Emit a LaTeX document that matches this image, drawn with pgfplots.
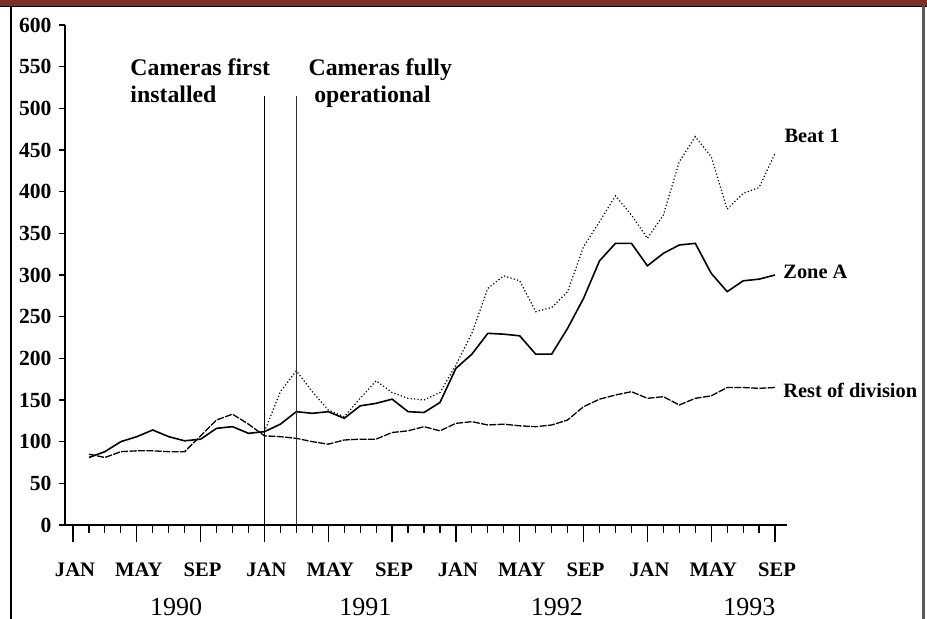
\documentclass[border=0pt]{standalone}
\usepackage{fontspec}
\setmainfont{Liberation Serif}
\usepackage{pgfplots}
\pgfplotsset{compat=1.18}
\definecolor{maroon}{RGB}{127,43,43}
\newcommand\tickfont{\fontsize{10.8bp}{12bp}\selectfont\bfseries}
\newcommand\monthfont{\fontsize{10.3bp}{12bp}\selectfont\bfseries}
\newcommand\yearfont{\fontsize{13bp}{15bp}\selectfont}
\newcommand\camfont{\fontsize{11.9bp}{15bp}\selectfont\bfseries}
\newcommand\labfont{\fontsize{10.2bp}{12bp}\selectfont\bfseries}
\begin{document}
\begin{tikzpicture}
\useasboundingbox (0,0) rectangle (463.5bp,309.5bp);
\fill[white] (0,0) rectangle (463.5bp,309.5bp);
\fill[maroon] (0,306.3bp) rectangle (463.5bp,309.5bp);
\draw[black, line width=0.6bp] (0,306.3bp) -- (463.5bp,306.3bp);
\draw[black, line width=1.3bp] (5.5bp,0) -- (5.5bp,306.3bp);
\draw[black!65, line width=1.5bp] (461.8bp,0) -- (461.8bp,306.3bp);
\begin{axis}[
  at={(32.5bp,47bp)}, anchor=south west,
  scale only axis, width=361bp, height=250bp,
  xmin=-0.5, xmax=44.75, ymin=0, ymax=600,
  axis x line*=bottom, axis y line*=left,
  axis line style={line width=0.7bp, black},
  clip=false,
  tick align=outside,
  every tick/.style={black, line width=0.6bp},
  xtick={0,4,...,44},
  xticklabels={JAN,MAY,SEP,JAN,MAY,SEP,JAN,MAY,SEP,JAN,MAY,SEP},
  minor xtick={0,1,...,44},
  xtick style={/pgfplots/major tick length=8.3bp},
  minor tick length=4bp,
  ytick={0,50,...,600},
  ytick style={/pgfplots/major tick length=3bp},
  /pgf/number format/assume math mode=true,
  yticklabel style={font=\tickfont, xshift=1bp},
  xticklabel style={font=\monthfont, anchor=base, yshift=-21.7bp, xshift=1bp},
]
% Zone A
\addplot[black, line width=0.8bp] coordinates {
(1,81) (2,88) (3,100) (4,106) (5,114) (6,106) (7,101) (8,103) (9,116) (10,118)
(11,110) (12,112) (13,121) (14,136) (15,134) (16,136) (17,128) (18,143) (19,146) (20,151)
(21,136) (22,135) (23,147) (24,188) (25,205) (26,230) (27,229) (28,227) (29,205) (30,205)
(31,236) (32,272) (33,317) (34,338) (35,338) (36,311) (37,326) (38,336) (39,338) (40,302)
(41,280) (42,293) (43,295) (44,300)};
% Beat 1
\addplot[black, line width=0.6bp, dash pattern=on 0.6bp off 1.1bp] coordinates {
(12,112) (13,160) (14,185) (15,160) (16,138) (17,130) (18,152) (19,173) (20,159)
(21,152) (22,150) (23,159) (24,192) (25,230) (26,284) (27,299) (28,293) (29,256) (30,261)
(31,280) (32,334) (33,364) (34,395) (35,372) (36,344) (37,372) (38,436) (39,466) (40,442)
(41,379) (42,398) (43,405) (44,446)};
% Rest of division
\addplot[black, line width=0.65bp, dash pattern=on 3.5bp off 0.7bp] coordinates {
(1,85) (2,81) (3,88) (4,89) (5,89) (6,88) (7,88) (8,107) (9,126) (10,133)
(11,121) (12,107) (13,106) (14,104) (15,100) (16,97) (17,102) (18,103) (19,103) (20,111)
(21,113) (22,118) (23,113) (24,122) (25,124) (26,120) (27,121) (28,119) (29,118) (30,120)
(31,126) (32,142) (33,151) (34,156) (35,160) (36,152) (37,154) (38,144) (39,152) (40,155)
(41,165) (42,165) (43,164) (44,165)};
% camera markers
\addplot[black, line width=0.7bp] coordinates {(12,0) (12,515)};
\addplot[black!80, line width=0.6bp] coordinates {(14,0) (14,515)};
\node[anchor=base west, inner sep=0, font=\camfont] at (axis cs:3.58,538.8) {Cameras first};
\node[anchor=base west, inner sep=0, font=\camfont] at (axis cs:3.58,506.4) {installed};
\node[anchor=base west, inner sep=0, font=\camfont] at (axis cs:14.74,538.8) {Cameras fully};
\node[anchor=base west, inner sep=0, font=\camfont] at (axis cs:15.1,506.4) {operational};
\node[anchor=base west, inner sep=0, font=\labfont] at (axis cs:44.57,458.4) {Beat 1};
\node[anchor=base west, inner sep=0, font=\labfont] at (axis cs:44.5,295.2) {Zone A};
\node[anchor=base west, inner sep=0, font=\labfont] at (axis cs:44.5,152.4) {Rest of division};
\node[anchor=base, font=\yearfont, yshift=-45bp] at (axis cs:6.47,0) {1990};
\node[anchor=base, font=\yearfont, yshift=-45bp] at (axis cs:18.32,0) {1991};
\node[anchor=base, font=\yearfont, yshift=-45bp] at (axis cs:30.33,0) {1992};
\node[anchor=base, font=\yearfont, yshift=-45bp] at (axis cs:42.39,0) {1993};
\end{axis}
\end{tikzpicture}
\end{document}
